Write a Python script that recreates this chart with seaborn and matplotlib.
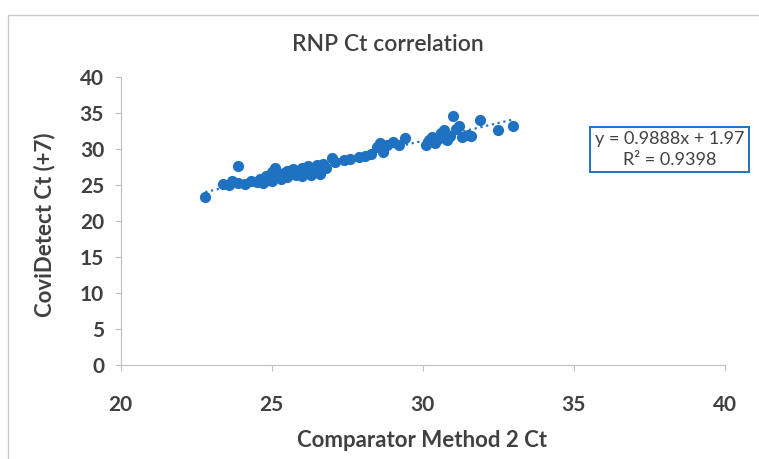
import numpy as np
import pandas as pd
import seaborn as sns
import matplotlib.pyplot as plt
from matplotlib.patches import Rectangle

# values
comparator_ct = [22.8, 23.4, 23.6, 23.7, 23.9, 23.9, 24.1, 24.3, 24.5, 24.6,
                 24.7, 24.8, 24.9, 25.0, 25.0, 25.1, 25.2, 25.3, 25.4, 25.5,
                 25.5, 25.6, 25.7, 25.8, 25.9, 26.0, 26.0, 26.1, 26.2, 26.3,
                 26.3, 26.4, 26.5, 26.6, 26.6, 26.7, 26.8, 27.0, 27.1, 27.4,
                 27.6, 27.9, 28.1, 28.3, 28.5, 28.6, 28.7, 28.8, 29.0, 29.2,
                 29.4, 30.1, 30.2, 30.3, 30.4, 30.5, 30.6, 30.7, 30.8, 30.9,
                 31.0, 31.1, 31.2, 31.3, 31.5, 31.6, 31.9, 32.5, 33.0]
covidetect_ct = [23.3, 25.2, 25.0, 25.6, 27.6, 25.3, 25.1, 25.5, 25.4, 25.9,
                 25.3, 26.2, 25.7, 26.8, 25.6, 27.3, 26.2, 25.9, 26.7, 27.0,
                 26.1, 26.5, 27.2, 26.4, 26.9, 27.4, 26.2, 26.8, 27.6, 27.0,
                 26.4, 27.3, 27.8, 27.1, 26.6, 27.9, 27.4, 28.7, 28.2, 28.5,
                 28.6, 28.9, 29.1, 29.3, 30.3, 30.9, 29.6, 30.5, 31.0, 30.6,
                 31.6, 30.6, 31.2, 31.7, 30.9, 31.4, 32.2, 32.6, 31.2, 31.8,
                 34.6, 32.8, 33.2, 31.7, 32.0, 31.8, 34.1, 32.7, 33.2]
x_ticks = [20, 25, 30, 35, 40]
y_ticks = [0, 5, 10, 15, 20, 25, 30, 35, 40]
equation_text = "y = 0.9888x + 1.97\nR² = 0.9398"

df = pd.DataFrame({"comparator": comparator_ct, "covidetect": covidetect_ct})

sns.set_style("white")
plt.rcParams["font.family"] = ["Lato", "DejaVu Sans"]

blue = "#1F72C2"
grey_text = "#404040"

fig = plt.figure(figsize=(7.59, 4.59), dpi=100)
ax = fig.add_axes([0.159, 0.205, 0.796, 0.627])

sns.regplot(data=df, x="comparator", y="covidetect", ax=ax, ci=None,
            color=blue, scatter_kws={"s": 65, "alpha": 1, "linewidths": 0},
            line_kws={"linestyle": ":", "linewidth": 1.6})

ax.set_xlim(20, 40)
ax.set_ylim(0, 40)
ax.set_xticks(x_ticks)
ax.set_yticks(y_ticks)
ax.set_xlabel("")
ax.set_ylabel("")
for lab in ax.get_xticklabels() + ax.get_yticklabels():
    lab.set_fontweight("bold")
    lab.set_fontsize(15)
    lab.set_color(grey_text)
ax.tick_params(axis="both", direction="out", length=4, width=0.8,
               color="#bfbfbf", pad=8, left=True, bottom=True)
ax.tick_params(axis="x", pad=18)
sns.despine(ax=ax)
for side in ["left", "bottom"]:
    ax.spines[side].set_color("#bfbfbf")
    ax.spines[side].set_linewidth(0.8)

fig.text(0.511, 0.902, "RNP Ct correlation", ha="center", va="center",
         fontsize=16.5, fontweight="semibold", color=grey_text)
fig.text(0.556, 0.041, "Comparator Method 2 Ct", ha="center", va="center",
         fontsize=16, fontweight="bold", color=grey_text)
fig.text(0.058, 0.51, "CoviDetect Ct (+7)", ha="center", va="center",
         rotation=90, fontsize=16, fontweight="bold", color=grey_text)

fig.text(0.882, 0.674, equation_text, ha="center", va="center", fontsize=13,
         color=grey_text, linespacing=1.35,
         bbox=dict(boxstyle="square,pad=0.25", fc="white", ec=blue, lw=1.4))

fig.patches.append(Rectangle((0.011, -0.1), 1.1, 1.068, transform=fig.transFigure,
                             fill=False, ec="#c8c8c8", lw=1.0))

fig.savefig("out.png", dpi=100)
